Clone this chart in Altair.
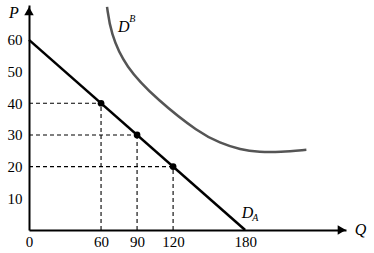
import altair as alt
import pandas as pd

# Data
da_q = [0, 180]
da_p = [60, 0]
pt_q = [60, 90, 120]
pt_p = [40, 30, 20]
db_q = [65, 68, 80, 107, 142, 159, 176, 192, 209, 231]
db_p = [70.4, 62.2, 51.5, 41, 30.6, 27.5, 25.3, 24.6, 24.6, 25.3]
x_ticks = [0, 60, 90, 120, 180]
y_ticks = [10, 20, 30, 40, 50, 60]

XMAX, YMAX = 264, 71
FONT = "Liberation Serif"

xs = alt.Scale(domain=[0, XMAX], nice=False, zero=False)
ys = alt.Scale(domain=[0, YMAX], nice=False, zero=False)

xaxis = alt.Axis(values=x_ticks, domain=True, domainColor="black", domainWidth=2,
                 ticks=False, grid=False, labelFont=FONT, labelFontSize=15,
                 labelColor="black", labelPadding=4, title=None, labelFlush=False)
yaxis = alt.Axis(values=y_ticks, domain=True, domainColor="black", domainWidth=2,
                 ticks=False, grid=False, labelFont=FONT, labelFontSize=15,
                 labelColor="black", labelPadding=7, title=None)


def X(f):
    return alt.X(f"{f}:Q", scale=xs, axis=xaxis, title=None)


def Y(f):
    return alt.Y(f"{f}:Q", scale=ys, axis=yaxis, title=None)


da = pd.DataFrame({"q": da_q, "p": da_p})
pts = pd.DataFrame({"q": pt_q, "p": pt_p})
db = pd.DataFrame({"q": db_q, "p": db_p, "o": list(range(len(db_q)))})

hz = pd.DataFrame({"q": [0] * 3, "q2": pt_q, "p": pt_p, "p2": pt_p})
vt = pd.DataFrame({"q": pt_q, "q2": pt_q, "p": [0] * 3, "p2": pt_p})
dash = pd.concat([hz, vt], ignore_index=True)

dash_layer = alt.Chart(dash).mark_rule(color="black", strokeWidth=1.1, strokeDash=[4, 3]).encode(
    x=X("q"), x2="q2", y=Y("p"), y2="p2",
)

da_layer = alt.Chart(da).mark_line(color="black", strokeWidth=2.5).encode(x=X("q"), y=Y("p"))

db_layer = alt.Chart(db).mark_line(color="#555555", strokeWidth=2.5, interpolate="basis").encode(
    x=X("q"), y=Y("p"), order="o:Q",
)

pt_layer = alt.Chart(pts).mark_circle(color="black", size=45, opacity=1).encode(x=X("q"), y=Y("p"))

arrows = pd.DataFrame({"q": [0, XMAX - 3.5], "p": [YMAX - 1.9, 0],
                       "s": ["triangle-up", "triangle-right"]})
arrow_layer = alt.Chart(arrows).mark_point(filled=True, color="black", size=90, opacity=1).encode(
    x=X("q"), y=Y("p"),
    shape=alt.Shape("s:N", scale=None, legend=None),
)

labels = pd.DataFrame({
    "q": [-12.5, 276, 182, 79],
    "p": [68.5, 0, 5.4, 64],
    "t": ["P", "Q", "D", "D"],
})
lab_layer = alt.Chart(labels).mark_text(font=FONT, fontStyle="italic", fontSize=16,
                                        color="black", align="center", baseline="middle").encode(
    x=X("q"), y=Y("p"), text="t:N"
)

subs = pd.DataFrame({"q": [188.5, 86], "p": [3.8, 66.5], "t": ["A", "B"]})
sub_layer = alt.Chart(subs).mark_text(font=FONT, fontStyle="italic", fontSize=10,
                                      color="black", align="center", baseline="middle").encode(
    x=X("q"), y=Y("p"), text="t:N"
)

chart = alt.layer(dash_layer, db_layer, da_layer, pt_layer, arrow_layer, lab_layer, sub_layer).properties(
    width=317, height=225,
    autosize=alt.AutoSizeParams(type="none"),
    padding={"left": 29, "top": 5, "right": 28, "bottom": 23},
    background="white",
).configure_view(stroke=None)

chart.save("out.html", embed_options={"renderer": "svg", "actions": False})
